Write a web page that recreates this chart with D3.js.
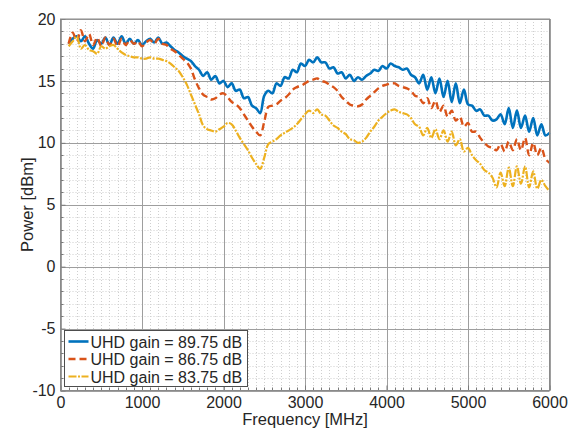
<!DOCTYPE html>
<html>
  <head>
    <meta charset="utf-8">
    <script src="https://d3js.org/d3.v7.min.js"></script>
    <style>
      body {margin: 0; background: white;}
      text {font-family: "Liberation Sans", Arial, sans-serif; fill: #262626;}
    </style>
  </head>
  <body>
    <svg class="chart" width="578" height="430"></svg>
  <script>

    // sample frequencies [MHz]
    var freq = [
      100,150,200,250,300,350,400,450,500,550,
      600,650,700,750,800,850,900,950,1000,1050,
      1100,1150,1200,1250,1300,1350,1400,1450,1500,1550,
      1600,1650,1700,1750,1800,1850,1900,1950,2000,2050,
      2100,2150,2200,2250,2300,2350,2400,2450,2500,2550,
      2600,2650,2700,2750,2800,2850,2900,2950,3000,3050,
      3100,3150,3200,3250,3300,3350,3400,3450,3500,3550,
      3600,3650,3700,3750,3800,3850,3900,3950,4000,4050,
      4100,4150,4200,4250,4300,4350,4400,4450,4500,4550,
      4600,4650,4700,4750,4800,4850,4900,4950,5000,5050,
      5100,5150,5200,5250,5300,5350,5400,5450,5500,5550,
      5600,5650,5700,5750,5800,5850,5900,5950,6000
    ];

    // power [dBm], gain 89.75 dB
    var gain8975 = [
      18.0,18.4,18.6,18.2,18.6,18.0,17.6,18.3,18.0,18.5,
      17.9,18.5,18.0,18.6,18.0,18.4,18.0,18.3,17.9,18.2,
      18.4,18.1,18.5,18.0,18.1,17.8,17.5,17.3,17.0,16.8,
      16.6,16.2,15.9,15.4,15.7,15.1,15.4,14.8,15.0,14.5,
      14.8,14.2,14.3,13.6,13.7,13.0,12.8,12.4,13.8,14.2,
      14.0,14.8,14.6,15.3,15.2,15.9,15.7,16.4,16.2,16.7,
      16.5,16.9,16.5,16.5,16.0,16.1,15.6,15.7,15.2,15.5,
      15.0,15.3,15.1,15.4,15.6,15.9,15.8,16.2,16.0,16.4,
      16.2,16.1,15.9,16.0,15.5,15.3,14.8,15.5,14.3,15.3,
      14.0,15.2,13.7,15.0,13.3,14.8,13.2,14.3,13.1,13.0,
      12.6,12.7,12.2,12.2,11.8,11.9,12.3,11.5,12.8,11.2,
      12.6,11.2,12.2,10.9,12.0,10.6,11.5,10.6,10.8
    ];

    // gain 86.75 dB
    var gain8675 = [
      18.0,18.9,18.2,19.1,18.2,18.8,17.9,18.5,17.8,18.5,
      17.9,18.4,17.8,18.4,17.9,18.3,18.0,18.2,17.8,18.1,
      18.3,18.0,18.4,18.0,17.9,17.6,17.4,17.1,16.8,16.5,
      16.0,15.1,14.4,13.9,13.7,13.5,13.6,13.9,14.0,13.7,
      13.3,13.1,12.8,12.3,11.8,11.3,10.9,10.6,11.7,12.9,
      13.0,13.1,13.4,13.6,13.9,14.3,14.5,14.6,14.8,15.0,
      15.1,15.2,15.0,14.9,14.7,14.5,14.2,13.7,13.4,13.1,
      13.0,12.95,13.1,13.5,13.8,14.1,14.4,14.6,14.7,14.8,
      14.8,14.6,14.5,14.4,14.2,13.8,13.7,13.2,13.6,12.8,
      13.4,12.5,13.0,12.1,12.6,11.8,12.1,11.3,11.6,10.9,
      10.9,10.4,10.0,9.7,9.6,9.4,9.9,9.3,10.1,9.4,
      10.3,9.4,10.4,9.0,10.0,9.0,9.6,8.7,8.4
    ];

    // gain 83.75 dB
    var gain8375 = [
      17.8,18.2,18.6,17.6,17.9,17.5,17.4,17.2,17.8,17.6,
      17.8,17.9,17.6,17.3,17.1,17.0,16.9,16.9,16.8,16.8,
      16.9,16.8,16.8,16.7,16.6,16.4,16.1,15.8,15.3,14.7,
      13.9,13.1,12.3,11.4,11.1,11.0,10.9,11.1,11.3,11.6,
      11.5,11.0,10.4,9.9,9.4,8.8,8.3,7.9,8.8,9.9,
      10.1,10.3,10.6,10.8,11.0,11.2,11.5,11.9,12.3,12.6,
      12.4,12.7,12.3,12.2,11.8,11.4,11.2,10.9,10.7,10.3,
      10.2,10.0,10.1,10.4,10.9,11.3,11.8,12.1,12.4,12.6,
      12.7,12.5,12.4,12.3,12.0,11.5,11.3,10.6,11.2,10.4,
      11.1,10.3,11.0,10.1,10.9,9.8,10.3,9.3,9.6,9.0,
      8.6,8.3,7.8,7.6,7.2,6.4,7.6,6.5,8.0,6.5,
      8.1,6.7,8.1,6.4,7.7,6.3,7.0,6.5,6.1
    ];

    var seriesNames = ["UHD gain = 89.75 dB", "UHD gain = 86.75 dB", "UHD gain = 83.75 dB"];
    var xTicks = [0, 1000, 2000, 3000, 4000, 5000, 6000];
    var yTicks = [-10, -5, 0, 5, 10, 15, 20];

    var colors = ["#0072BD", "#D95319", "#EDB120"];
    var dashes = [null, "7,4", "8,1.5,2,1.5"];
    var widths = [2.6, 2.4, 2.2];

    var svg = d3.select(".chart");
    var pLeft = 60.5, pRight = 549.5, pTop = 19, pBottom = 390.5;

    var x = d3.scaleLinear().domain([0, 6000]).range([pLeft, pRight]);
    var y = d3.scaleLinear().domain([-10, 20]).range([pBottom, pTop]);

    // minor grid (dotted)
    var xMinor = x.ticks(60).filter(function(d) {return xTicks.indexOf(d) < 0});
    var yMinor = y.ticks(30).filter(function(d) {return yTicks.indexOf(d) < 0});

    svg.append("g").selectAll("line").data(xMinor).enter().append("line")
      .attr("x1", function(d) {return Math.round(x(d)) + 0.5})
      .attr("x2", function(d) {return Math.round(x(d)) + 0.5})
      .attr("y1", pTop).attr("y2", pBottom)
      .attr("stroke", "#cfcfcf").attr("stroke-dasharray", "1,2");
    svg.append("g").selectAll("line").data(yMinor).enter().append("line")
      .attr("y1", function(d) {return Math.round(y(d)) + 0.5})
      .attr("y2", function(d) {return Math.round(y(d)) + 0.5})
      .attr("x1", pLeft).attr("x2", pRight)
      .attr("stroke", "#cfcfcf").attr("stroke-dasharray", "1,2");

    // major grid
    svg.append("g").selectAll("line").data(xTicks).enter().append("line")
      .attr("x1", function(d) {return Math.round(x(d)) + 0.5})
      .attr("x2", function(d) {return Math.round(x(d)) + 0.5})
      .attr("y1", pTop).attr("y2", pBottom)
      .attr("stroke", "#9e9e9e");
    svg.append("g").selectAll("line").data(yTicks).enter().append("line")
      .attr("y1", function(d) {return Math.round(y(d)) + 0.5})
      .attr("y2", function(d) {return Math.round(y(d)) + 0.5})
      .attr("x1", pLeft).attr("x2", pRight)
      .attr("stroke", "#9e9e9e");

    // data lines
    var allSeries = [gain8975, gain8675, gain8375];
    var line = d3.line()
      .x(function(d) {return x(d[0])})
      .y(function(d) {return y(d[1])})
      .curve(d3.curveCatmullRom);

    allSeries.forEach(function(s, i) {
      var pts = freq.map(function(f, j) {return [f, s[j]]});
      svg.append("path")
        .attr("d", line(pts))
        .attr("fill", "none")
        .attr("stroke", colors[i])
        .attr("stroke-width", widths[i])
        .attr("stroke-dasharray", dashes[i])
        .attr("stroke-linejoin", "round");
    });

    // axes (ticks inward, box around)
    var fmt = function(d) {return String(d)};
    var xAxis = d3.axisBottom(x).tickValues(xTicks).tickFormat(fmt)
      .tickSizeInner(-5).tickSizeOuter(0).tickPadding(6);
    var yAxis = d3.axisLeft(y).tickValues(yTicks).tickFormat(fmt)
      .tickSizeInner(-5).tickSizeOuter(0).tickPadding(5);

    var gx = svg.append("g").attr("transform", "translate(0," + pBottom + ")").call(xAxis);
    var gy = svg.append("g").attr("transform", "translate(" + pLeft + ",0)").call(yAxis);
    [gx, gy].forEach(function(g) {
      g.select(".domain").remove();
      g.selectAll("line").attr("stroke", "#7a7a7a");
      g.selectAll("text").attr("font-size", 16).attr("fill", "#262626")
        .style("font-family", "'Liberation Sans', Arial, sans-serif");
    });

    // minor ticks
    svg.append("g").selectAll("line").data(xMinor).enter().append("line")
      .attr("x1", function(d) {return Math.round(x(d)) + 0.5})
      .attr("x2", function(d) {return Math.round(x(d)) + 0.5})
      .attr("y1", pBottom).attr("y2", pBottom - 3)
      .attr("stroke", "#7a7a7a");
    svg.append("g").selectAll("line").data(yMinor).enter().append("line")
      .attr("y1", function(d) {return Math.round(y(d)) + 0.5})
      .attr("y2", function(d) {return Math.round(y(d)) + 0.5})
      .attr("x1", pLeft).attr("x2", pLeft + 3)
      .attr("stroke", "#7a7a7a");

    svg.append("rect")
      .attr("x", pLeft).attr("y", pTop)
      .attr("width", pRight - pLeft).attr("height", pBottom - pTop)
      .attr("fill", "none").attr("stroke", "#8a8a8a");

    // axis labels
    svg.append("text")
      .attr("x", (pLeft + pRight) / 2).attr("y", 425)
      .attr("text-anchor", "middle")
      .attr("font-size", 16.5)
      .text("Frequency [MHz]");

    svg.append("text")
      .attr("transform", "translate(33," + (pTop + pBottom) / 2 + ") rotate(-90)")
      .attr("text-anchor", "middle")
      .attr("font-size", 16.5)
      .text("Power [dBm]");

    // legend
    var lg = svg.append("g").attr("transform", "translate(64.5,330.5)");
    lg.append("rect")
      .attr("width", 183).attr("height", 56)
      .attr("fill", "white").attr("stroke", "#4d4d4d");

    seriesNames.forEach(function(name, i) {
      var cy = 11 + i * 17.5;
      lg.append("line")
        .attr("x1", 4).attr("x2", 24).attr("y1", cy).attr("y2", cy)
        .attr("stroke", colors[i])
        .attr("stroke-width", widths[i])
        .attr("stroke-dasharray", dashes[i]);
      lg.append("text")
        .attr("x", 26).attr("y", cy + 6)
        .attr("font-size", 16)
        .text(name);
    });

  </script>
  </body>
</html>
